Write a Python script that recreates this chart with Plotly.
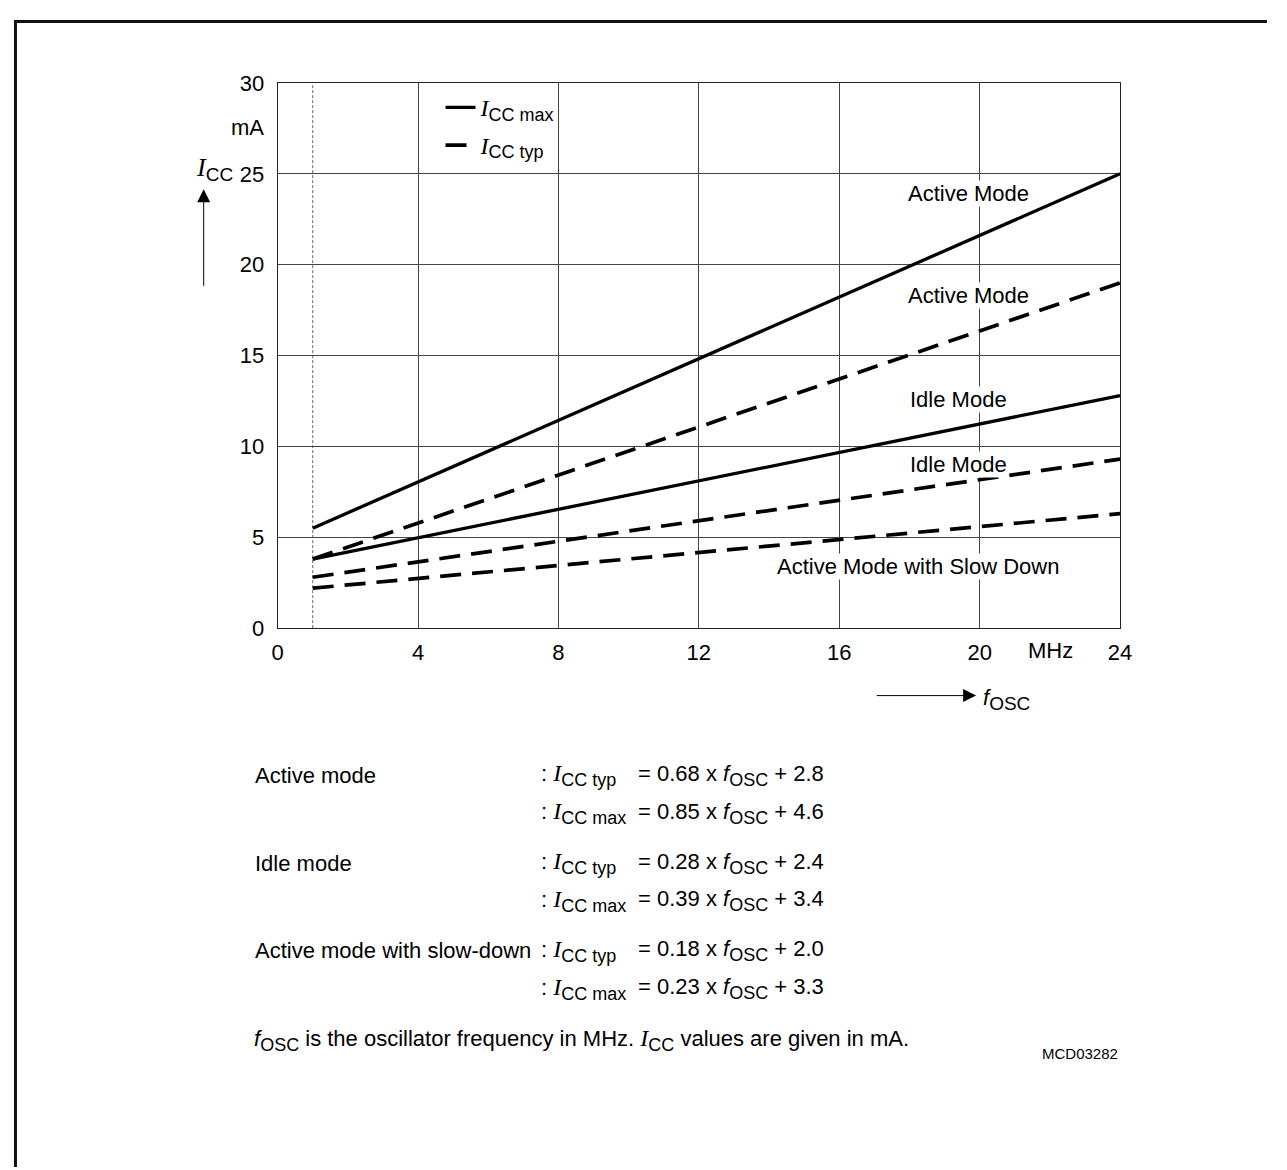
import plotly.graph_objects as go

# ---- data ----
f_osc = [1, 24]
icc_active_max = [5.5, 25.0]
icc_active_typ = [3.8, 19.0]
icc_idle_max = [3.8, 12.8]
icc_idle_typ = [2.8, 9.3]
icc_slow_typ = [2.2, 6.3]
x_ticks = [0, 4, 8, 12, 16, 20, 24]
y_ticks = [0, 5, 10, 15, 20, 25, 30]
ref_line_x = [1]

W, H = 1271, 1172
FONT = "Liberation Sans, Arial, sans-serif"
SERIF = "Liberation Serif, Times New Roman, serif"
FS = 22

# mapping from target-picture pixels to figure pixels (measured from renders)
SX, CX = 0.9865, 13.2
SY, CY = 0.982, 19.1


def FX(r):
    return (r - CX) / SX


def FY(r):
    return (r - CY) / SY


def PX(r):
    return FX(r) / W


def PY(r):
    return 1 - FY(r) / H


def I(sub, isize=24, ssize=18):
    return (f'<span style="font-family:{SERIF};font-size:{isize}px"><i>I</i></span>'
            f'<sub><span style="font-size:{ssize}px">{sub}</span></sub>')


F = '<i>f</i><sub><span style="font-size:18px">OSC</span></sub>'

fig = go.Figure()

solid = dict(color="black", width=3.3)
dashed = dict(color="black", width=3.7, dash="21px,11px")

fig.add_trace(go.Scatter(x=f_osc, y=icc_active_max, mode="lines", line=solid,
                         name=I("CC max"), showlegend=True, legendgroup="a"))
fig.add_trace(go.Scatter(x=f_osc, y=icc_active_typ, mode="lines", line=dashed,
                         name=I("CC typ"), showlegend=True, legendgroup="b"))
fig.add_trace(go.Scatter(x=f_osc, y=icc_idle_max, mode="lines", line=solid, showlegend=False))
fig.add_trace(go.Scatter(x=f_osc, y=icc_idle_typ, mode="lines", line=dashed, showlegend=False))
fig.add_trace(go.Scatter(x=f_osc, y=icc_slow_typ, mode="lines", line=dashed, showlegend=False))

for xv in ref_line_x:
    fig.add_vline(x=xv, line=dict(color="#666", width=1, dash="3px,2px"), layer="below")

fig.update_layout(
    width=W, height=H,
    margin=dict(l=0, r=0, t=0, b=0),
    paper_bgcolor="white", plot_bgcolor="white",
    font=dict(family=FONT, size=FS, color="black"),
    showlegend=True,
    legend=dict(x=PX(440), y=PY(86), xanchor="left", yanchor="top",
                bgcolor="rgba(0,0,0,0)", font=dict(size=FS, family=FONT),
                traceorder="grouped", tracegroupgap=6),
    xaxis=dict(domain=[PX(277), PX(1120)], range=[0, 24], tickvals=x_ticks,
               showgrid=True, gridcolor="#444", gridwidth=1,
               showline=True, linecolor="#222", linewidth=1, mirror=True,
               ticks="", ticklabelstandoff=4, zeroline=False,
               tickfont=dict(size=FS)),
    yaxis=dict(domain=[PY(629.3), PY(82.3)], range=[0, 30], tickvals=y_ticks,
               showgrid=True, gridcolor="#444", gridwidth=1,
               showline=True, linecolor="#222", linewidth=1, mirror=True,
               ticks="", ticklabelstandoff=8, zeroline=False,
               tickfont=dict(size=FS)),
)

# curve labels (white background)
labels = [
    ("Active Mode", 19.67, 23.93),
    ("Active Mode", 19.67, 18.33),
    ("Idle Mode", 19.4, 12.58),
    ("Idle Mode", 19.4, 9.0),
    ("Active Mode with Slow Down", 18.25, 3.37),
]
for t, xv, yv in labels:
    fig.add_annotation(x=xv, y=yv, xref="x", yref="y", text=t, showarrow=False,
                       bgcolor="white", borderpad=0, font=dict(size=FS))


def pann(text, px, py, anchor="left", size=FS):
    fig.add_annotation(x=PX(px), y=PY(py), xref="paper", yref="paper", text=text,
                       showarrow=False, xanchor=anchor, yanchor="middle",
                       font=dict(size=size, family=FONT))


# axis unit labels
pann("mA", 265, 127, anchor="right")
pann("MHz", 1050, 652, anchor="center")
pann(I("CC", 26, 19), 193, 169, anchor="left")
pann('<i>f</i><sub><span style="font-size:19px">OSC</span></sub>', 981, 701, anchor="left")

# axis arrows
fig.add_annotation(x=PX(203), y=PY(189), xref="paper", yref="paper", text="",
                   showarrow=True, ax=0, ay=98, axref="pixel", ayref="pixel",
                   arrowhead=2, arrowsize=2.6, arrowwidth=1, arrowcolor="black")
fig.add_annotation(x=PX(976), y=PY(697), xref="paper", yref="paper", text="",
                   showarrow=True, ax=-101, ay=0, axref="pixel", ayref="pixel",
                   arrowhead=2, arrowsize=2.6, arrowwidth=1, arrowcolor="black")

# formula block
rows = [
    ("Active mode", "CC typ", "= 0.68 x " + F + " + 2.8", 777),
    ("", "CC max", "= 0.85 x " + F + " + 4.6", 815),
    ("Idle mode", "CC typ", "= 0.28 x " + F + " + 2.4", 865),
    ("", "CC max", "= 0.39 x " + F + " + 3.4", 903),
    ("Active mode with slow-down", "CC typ", "= 0.18 x " + F + " + 2.0", 953),
    ("", "CC max", "= 0.23 x " + F + " + 3.3", 991),
]
for left, sub, rhs, py in rows:
    if left:
        pann(left, 252, py)
    pann(": " + I(sub), 539, py)
    pann(rhs, 636, py)

pann(F + " is the oscillator frequency in MHz. " + I("CC") + " values are given in mA.", 251, 1043)
pann("MCD03282", 1080, 1056, anchor="center", size=15)

# outer frame (left and top edges)
fig.add_shape(type="line", xref="paper", yref="paper", x0=1.5 / W, x1=1.5 / W,
              y0=0, y1=1 - 1.5 / H, line=dict(color="#111", width=3))
fig.add_shape(type="line", xref="paper", yref="paper", x0=0, x1=1,
              y0=1 - 1.5 / H, y1=1 - 1.5 / H, line=dict(color="#111", width=3))

fig.write_html("out.html")
